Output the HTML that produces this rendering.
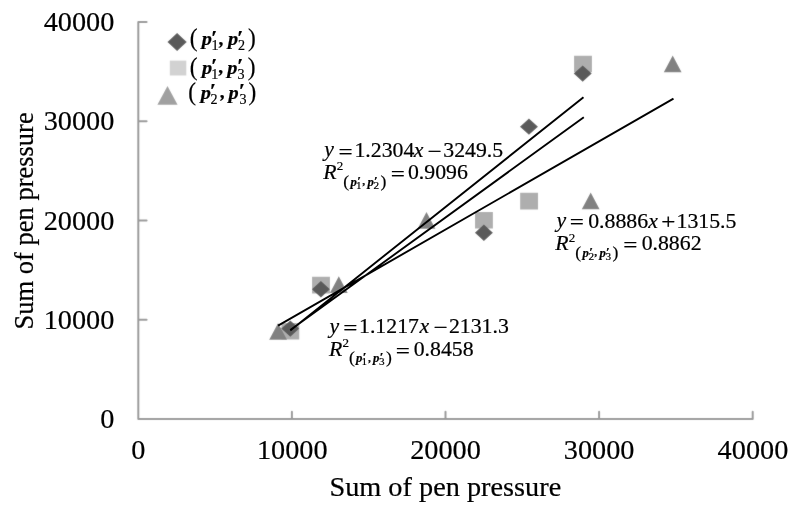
<!DOCTYPE html>
<html><head><meta charset="utf-8">
<style>
html,body{margin:0;padding:0;background:#fff;width:793px;height:515px;overflow:hidden}
svg{position:absolute;left:0;top:0;will-change:transform}
text{font-family:"Liberation Serif",serif;fill:#000;stroke:#000;stroke-width:0.2px}
</style></head><body>
<svg width="793" height="515" viewBox="0 0 793 515">
<defs><filter id="sf" x="0" y="0" width="793" height="515" filterUnits="userSpaceOnUse"><feConvolveMatrix order="3" kernelMatrix="1 2 1 2 28 2 1 2 1" divisor="40" edgeMode="duplicate"/></filter></defs>
<g filter="url(#sf)">
<rect x="0" y="0" width="793" height="515" fill="#fff"/>
<path d="M138.3 22H146.6M138.3 22V419.0H752.7V411.8M138.3 121.25H146.6M138.3 220.5H146.6M138.3 319.75H146.6M291.9 419.0V411.8M445.5 419.0V411.8M599.1 419.0V411.8" stroke="#999" stroke-width="2" fill="none" stroke-linecap="round" stroke-linejoin="round"/>
<path d="M281.35 323.00h17.9v16.6h-17.9ZM312.05 276.80h17.9v16.6h-17.9ZM475.00 212.00h17.9v16.6h-17.9ZM520.15 192.80h17.9v16.6h-17.9ZM574.05 55.70h17.9v16.6h-17.9Z" fill="#aeaeae"/>
<path d="M278.10 322.95L287.00 339.65H269.20ZM338.80 276.35L347.70 293.05H329.90ZM426.50 212.00L435.40 228.70H417.60ZM590.70 192.60L599.60 209.30H581.80ZM672.70 55.55L681.60 72.25H663.80Z" fill="#818181"/>
<path d="M290.30 320.40L299.30 328.60L290.30 336.80L281.30 328.60ZM320.90 281.00L329.90 289.20L320.90 297.40L311.90 289.20ZM483.90 224.60L492.90 232.80L483.90 241.00L474.90 232.80ZM528.95 118.45L537.95 126.65L528.95 134.85L519.95 126.65ZM582.70 65.40L591.70 73.60L582.70 81.80L573.70 73.60Z" fill="#5a5a5a"/>
<path d="M177.10 32.90L186.75 42.00L177.10 51.10L167.45 42.00Z" fill="#5a5a5a"/>
<path d="M169.80 60.60h16.5v14.9h-16.5Z" fill="#d2d2d2"/>
<path d="M167.5 86.0L177.6 104.7H157.4Z" fill="#a0a0a0"/>
</g>
<path d="M290.30 330.41L583.50 97.30M290.30 329.98L583.80 117.26M278.10 325.67L673.50 98.64" stroke="#000" stroke-width="1.9" fill="none"/>
<text transform="translate(43.68 30.50) scale(1.068 1)" font-size="26.5">40000</text>
<text transform="translate(43.68 130.00) scale(1.068 1)" font-size="26.5">30000</text>
<text transform="translate(43.68 229.50) scale(1.068 1)" font-size="26.5">20000</text>
<text transform="translate(43.68 328.90) scale(1.068 1)" font-size="26.5">10000</text>
<text transform="translate(100.28 427.90) scale(1.068 1)" font-size="26.5">0</text>
<text transform="translate(131.27 459.10) scale(1.068 1)" font-size="26.5">0</text>
<text transform="translate(256.91 459.10) scale(1.068 1)" font-size="26.5">10000</text>
<text transform="translate(410.15 459.10) scale(1.068 1)" font-size="26.5">20000</text>
<text transform="translate(563.73 459.10) scale(1.068 1)" font-size="26.5">30000</text>
<text transform="translate(717.61 459.10) scale(1.068 1)" font-size="26.5">40000</text>
<text transform="translate(329.41 495.50) scale(1.068 1)" font-size="26.5">Sum of pen pressure</text>
<text transform="translate(32.50 329.38) scale(1.068 1) rotate(-90)" font-size="26.5">Sum of pen pressure</text>
<text transform="translate(324.35 156.40) scale(1.068 1)" font-size="20.4" style="font-style:italic;">y</text>
<text transform="translate(338.45 158.60) scale(1.228 1)" font-size="20.4">=</text>
<text transform="translate(354.44 156.80) scale(1.068 1)" font-size="20.4">1.2304</text>
<text transform="translate(413.72 156.80) scale(1.068 1)" font-size="20.4" style="font-style:italic;">x</text>
<text transform="translate(427.55 157.90) scale(1.228 1)" font-size="20.4">−</text>
<text transform="translate(443.31 156.80) scale(1.068 1)" font-size="20.4">3249.5</text>
<text transform="translate(323.31 178.60) scale(1.068 1)" font-size="20.4" style="font-style:italic;">R</text>
<text transform="translate(336.81 169.80) scale(1.068 1)" font-size="12.2">2</text>
<text transform="translate(343.31 186.86) scale(1.068 1)" font-size="16.5">(</text>
<text transform="translate(350.50 185.80) scale(1.068 1)" font-size="12.0" style="font-weight:bold;font-style:italic;">p</text>
<text transform="translate(356.99 184.81) scale(1.068 1)" font-size="13.0" style="font-weight:bold;font-style:italic;">′</text>
<text transform="translate(355.99 188.80) scale(1.068 1)" font-size="10.5">1</text>
<text transform="translate(362.83 185.20) scale(1.068 1)" font-size="11.0" style="font-weight:bold;font-style:italic;">,</text>
<text transform="translate(367.50 185.80) scale(1.068 1)" font-size="12.0" style="font-weight:bold;font-style:italic;">p</text>
<text transform="translate(373.79 184.81) scale(1.068 1)" font-size="13.0" style="font-weight:bold;font-style:italic;">′</text>
<text transform="translate(373.50 188.80) scale(1.068 1)" font-size="10.5">2</text>
<text transform="translate(380.47 186.86) scale(1.068 1)" font-size="16.5">)</text>
<text transform="translate(390.75 181.00) scale(1.228 1)" font-size="20.4">=</text>
<text transform="translate(407.93 178.60) scale(1.068 1)" font-size="20.4">0.9096</text>
<text transform="translate(556.55 227.40) scale(1.068 1)" font-size="20.4" style="font-style:italic;">y</text>
<text transform="translate(569.75 229.40) scale(1.228 1)" font-size="20.4">=</text>
<text transform="translate(588.23 227.80) scale(1.068 1)" font-size="20.4">0.8886</text>
<text transform="translate(648.22 227.80) scale(1.068 1)" font-size="20.4" style="font-style:italic;">x</text>
<text transform="translate(661.35 228.60) scale(1.228 1)" font-size="20.4">+</text>
<text transform="translate(676.54 227.80) scale(1.068 1)" font-size="20.4">1315.5</text>
<text transform="translate(555.31 250.30) scale(1.068 1)" font-size="20.4" style="font-style:italic;">R</text>
<text transform="translate(568.81 241.50) scale(1.068 1)" font-size="12.2">2</text>
<text transform="translate(575.31 257.71) scale(1.068 1)" font-size="16.5">(</text>
<text transform="translate(582.50 256.65) scale(1.068 1)" font-size="12.0" style="font-weight:bold;font-style:italic;">p</text>
<text transform="translate(588.99 255.67) scale(1.068 1)" font-size="13.0" style="font-weight:bold;font-style:italic;">′</text>
<text transform="translate(588.50 259.65) scale(1.068 1)" font-size="10.5">2</text>
<text transform="translate(594.83 256.05) scale(1.068 1)" font-size="11.0" style="font-weight:bold;font-style:italic;">,</text>
<text transform="translate(599.50 256.65) scale(1.068 1)" font-size="12.0" style="font-weight:bold;font-style:italic;">p</text>
<text transform="translate(605.79 255.67) scale(1.068 1)" font-size="13.0" style="font-weight:bold;font-style:italic;">′</text>
<text transform="translate(605.44 259.54) scale(1.068 1)" font-size="10.5">3</text>
<text transform="translate(612.47 257.71) scale(1.068 1)" font-size="16.5">)</text>
<text transform="translate(623.35 252.30) scale(1.228 1)" font-size="20.4">=</text>
<text transform="translate(641.63 250.30) scale(1.068 1)" font-size="20.4">0.8862</text>
<text transform="translate(329.45 333.00) scale(1.068 1)" font-size="20.4" style="font-style:italic;">y</text>
<text transform="translate(343.35 335.20) scale(1.228 1)" font-size="20.4">=</text>
<text transform="translate(359.04 333.00) scale(1.068 1)" font-size="20.4">1.1217</text>
<text transform="translate(419.62 333.00) scale(1.068 1)" font-size="20.4" style="font-style:italic;">x</text>
<text transform="translate(433.45 334.20) scale(1.228 1)" font-size="20.4">−</text>
<text transform="translate(448.92 333.00) scale(1.068 1)" font-size="20.4">2131.3</text>
<text transform="translate(328.91 355.50) scale(1.068 1)" font-size="20.4" style="font-style:italic;">R</text>
<text transform="translate(342.41 346.70) scale(1.068 1)" font-size="12.2">2</text>
<text transform="translate(348.91 363.41) scale(1.068 1)" font-size="16.5">(</text>
<text transform="translate(356.10 362.35) scale(1.068 1)" font-size="12.0" style="font-weight:bold;font-style:italic;">p</text>
<text transform="translate(362.59 361.37) scale(1.068 1)" font-size="13.0" style="font-weight:bold;font-style:italic;">′</text>
<text transform="translate(361.59 365.35) scale(1.068 1)" font-size="10.5">1</text>
<text transform="translate(368.43 361.75) scale(1.068 1)" font-size="11.0" style="font-weight:bold;font-style:italic;">,</text>
<text transform="translate(373.10 362.35) scale(1.068 1)" font-size="12.0" style="font-weight:bold;font-style:italic;">p</text>
<text transform="translate(379.39 361.37) scale(1.068 1)" font-size="13.0" style="font-weight:bold;font-style:italic;">′</text>
<text transform="translate(379.04 365.25) scale(1.068 1)" font-size="10.5">3</text>
<text transform="translate(386.07 363.41) scale(1.068 1)" font-size="16.5">)</text>
<text transform="translate(395.65 357.70) scale(1.228 1)" font-size="20.4">=</text>
<text transform="translate(413.73 355.50) scale(1.068 1)" font-size="20.4">0.8458</text>
<text transform="translate(189.85 46.24) scale(0.8971 1)" font-size="26.0">(</text>
<text transform="translate(201.72 45.00) scale(1.068 1)" font-size="19.0" style="font-weight:bold;font-style:italic;">p</text>
<text transform="translate(210.81 44.75) scale(1.068 1)" font-size="21.0" style="font-weight:bold;font-style:italic;">′</text>
<text transform="translate(211.53 50.30) scale(0.9398 1)" font-size="15.0">1</text>
<text transform="translate(219.31 44.76) scale(1.068 1)" font-size="19.0" style="font-weight:bold;font-style:italic;">,</text>
<text transform="translate(228.02 45.00) scale(1.068 1)" font-size="19.0" style="font-weight:bold;font-style:italic;">p</text>
<text transform="translate(236.71 44.75) scale(1.068 1)" font-size="21.0" style="font-weight:bold;font-style:italic;">′</text>
<text transform="translate(237.97 50.30) scale(0.9398 1)" font-size="15.0">2</text>
<text transform="translate(248.00 46.24) scale(0.8971 1)" font-size="26.0">)</text>
<text transform="translate(189.65 74.79) scale(0.8971 1)" font-size="26.0">(</text>
<text transform="translate(202.02 73.50) scale(1.068 1)" font-size="19.0" style="font-weight:bold;font-style:italic;">p</text>
<text transform="translate(210.71 73.25) scale(1.068 1)" font-size="21.0" style="font-weight:bold;font-style:italic;">′</text>
<text transform="translate(211.33 78.80) scale(0.9398 1)" font-size="15.0">1</text>
<text transform="translate(219.11 73.25) scale(1.068 1)" font-size="19.0" style="font-weight:bold;font-style:italic;">,</text>
<text transform="translate(227.32 73.50) scale(1.068 1)" font-size="19.0" style="font-weight:bold;font-style:italic;">p</text>
<text transform="translate(236.81 73.25) scale(1.068 1)" font-size="21.0" style="font-weight:bold;font-style:italic;">′</text>
<text transform="translate(237.60 78.65) scale(0.9398 1)" font-size="15.0">3</text>
<text transform="translate(247.70 74.79) scale(0.8971 1)" font-size="26.0">)</text>
<text transform="translate(188.25 99.84) scale(0.8971 1)" font-size="26.0">(</text>
<text transform="translate(200.82 98.60) scale(1.068 1)" font-size="19.0" style="font-weight:bold;font-style:italic;">p</text>
<text transform="translate(209.41 98.35) scale(1.068 1)" font-size="21.0" style="font-weight:bold;font-style:italic;">′</text>
<text transform="translate(210.57 103.90) scale(0.9398 1)" font-size="15.0">2</text>
<text transform="translate(220.51 98.35) scale(1.068 1)" font-size="19.0" style="font-weight:bold;font-style:italic;">,</text>
<text transform="translate(228.62 98.60) scale(1.068 1)" font-size="19.0" style="font-weight:bold;font-style:italic;">p</text>
<text transform="translate(238.61 98.35) scale(1.068 1)" font-size="21.0" style="font-weight:bold;font-style:italic;">′</text>
<text transform="translate(239.40 103.75) scale(0.9398 1)" font-size="15.0">3</text>
<text transform="translate(248.60 99.84) scale(0.8971 1)" font-size="26.0">)</text>
</svg>
</body></html>
